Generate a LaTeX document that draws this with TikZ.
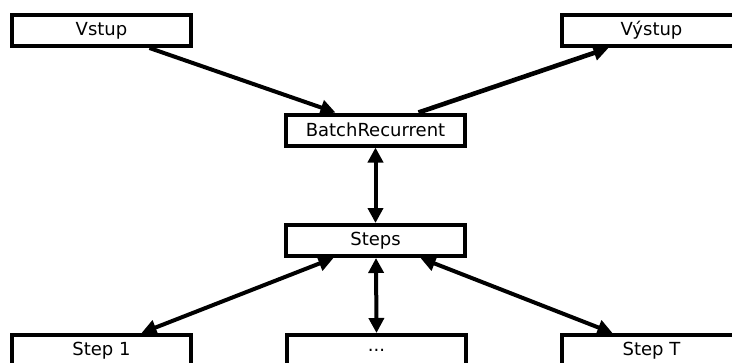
\documentclass[tikz,border=0pt]{standalone}
\usepackage{fontspec}
\setmainfont{DejaVu Sans}
\usetikzlibrary{arrows.meta}
\begin{document}
\begin{tikzpicture}[x=1pt,y=-1pt,
  block/.style={draw=black, line width=4pt, fill=white, minimum width=179pt,
    minimum height=31pt, inner sep=0pt, font=\fontsize{18}{21}\selectfont},
  link/.style={line width=4pt, -{Triangle[length=15pt,width=15pt]}},
  dlink/.style={line width=4pt, {Triangle[length=15pt,width=15pt]}-{Triangle[length=15pt,width=15pt]}}]
  \useasboundingbox (0,0) rectangle (732,362);
  \clip (0,0) rectangle (732,362);
  % blocks
  \node[block] (in)    at (101.5,30.5)  {Vstup};
  \node[block] (out)   at (651.5,30.5)  {Výstup};
  \node[block] (batch) at (375.5,130)   {BatchRecurrent};
  \node[block] (steps) at (375.5,240.5) {Steps};
  \node[block] (s1)    at (101.5,350.5) {Step 1};
  \node[block] (sdots) at (376.5,350.5) {...};
  \node[block] (sT)    at (651.5,350.5) {Step T};
  % connectors
  \draw[link] ([xshift=48pt]in.south) -- ([xshift=-40pt]batch.north);
  \draw[link, line width=4.6pt] ([xshift=43pt]batch.north) -- ([xshift=-43pt]out.south);
  \draw[dlink] (batch.south) -- (steps.north);
  \draw[dlink] ([xshift=-42pt]steps.south) -- ([xshift=40pt]s1.north);
  \draw[dlink] ([xshift=0.5pt]steps.south) -- (sdots.north);
  \draw[dlink] ([xshift=45pt]steps.south) -- ([xshift=-39pt]sT.north);
\end{tikzpicture}
\end{document}
